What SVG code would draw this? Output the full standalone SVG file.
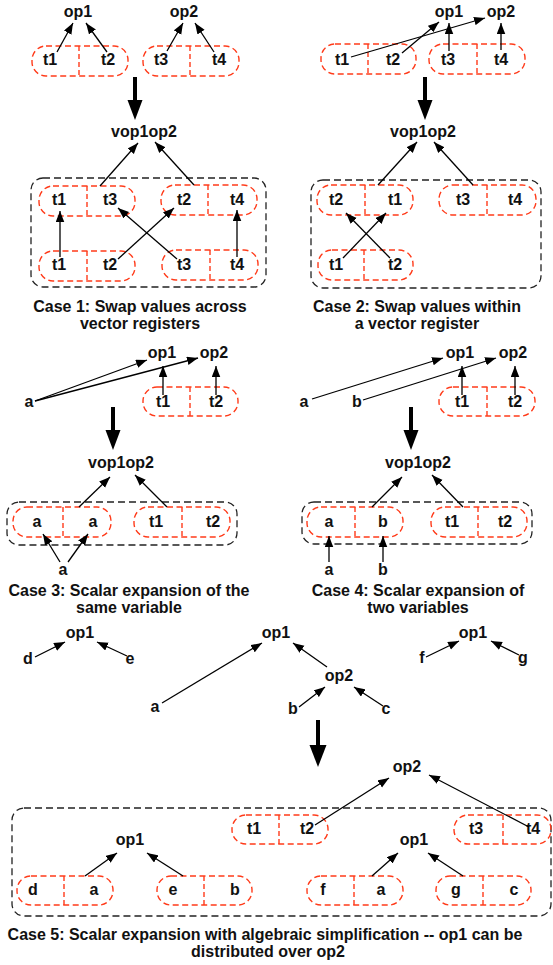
<svg xmlns="http://www.w3.org/2000/svg" width="553" height="965" viewBox="0 0 553 965">
  <style>
    text { font-family: "Liberation Sans", Arial, Helvetica, sans-serif; font-weight: bold; font-size: 16px; fill: #111; text-anchor: middle; }
    .reg { fill: none; stroke: #ff3b1a; stroke-width: 1.4; stroke-dasharray: 6 3.5; }
    .div { stroke: #ff3b1a; stroke-width: 1.4; stroke-dasharray: 5 3; }
    .box { fill: none; stroke: #222; stroke-width: 1.3; stroke-dasharray: 7 4; }
    .edge { stroke: #000; stroke-width: 1.3; fill: none; marker-end: url(#head); }
    .shaft { stroke: #000; stroke-width: 4; }
    .bighead { fill: #000; }
  </style>
  <defs>
    <marker id="head" markerUnits="userSpaceOnUse" markerWidth="12" markerHeight="9" refX="11" refY="4.25" orient="auto">
      <path d="M0,0 L11,4.25 L0,8.5 z" fill="#000"/>
    </marker>
  </defs>

  <!-- Case 1: swap values across vector registers -->
  <g id="c1-op1"><text x="78" y="17">op1</text></g>
  <g id="c1-op2"><text x="184" y="17">op2</text></g>
  <g id="c1-r12"><rect class="reg" x="32" y="46" width="96" height="30" rx="14"/><line class="div" x1="79" y1="46" x2="79" y2="76"/><text x="50" y="65">t1</text><text x="108" y="65">t2</text></g>
  <g id="c1-r34"><rect class="reg" x="143" y="46" width="96" height="30" rx="14"/><line class="div" x1="190" y1="46" x2="190" y2="76"/><text x="161" y="65">t3</text><text x="219" y="65">t4</text></g>
  <g id="c1-vop"><text x="144" y="137">vop1op2</text></g>
  <g id="c1-pack"><rect class="box" x="31" y="178" width="235" height="109" rx="12"/></g>
  <g id="c1-r13"><rect class="reg" x="39" y="186" width="96" height="30" rx="14"/><line class="div" x1="87" y1="186" x2="87" y2="216"/><text x="59" y="205">t1</text><text x="110" y="205">t3</text></g>
  <g id="c1-r24"><rect class="reg" x="161" y="185" width="96" height="30" rx="14"/><line class="div" x1="208" y1="185" x2="208" y2="215"/><text x="184" y="205">t2</text><text x="237" y="205">t4</text></g>
  <g id="c1-b12"><rect class="reg" x="39" y="251" width="96" height="30" rx="14"/><line class="div" x1="87" y1="251" x2="87" y2="281"/><text x="59" y="270">t1</text><text x="110" y="270">t2</text></g>
  <g id="c1-b34"><rect class="reg" x="162" y="250" width="96" height="30" rx="14"/><line class="div" x1="210" y1="250" x2="210" y2="280"/><text x="184" y="270">t3</text><text x="237" y="270">t4</text></g>
  <g id="c1-caption"><text x="140" y="312">Case 1: Swap values across</text><text x="140" y="329">vector registers</text></g>

  <!-- Case 2: swap values within a vector register -->
  <g id="c2-op1"><text x="449" y="17">op1</text></g>
  <g id="c2-op2"><text x="501" y="17">op2</text></g>
  <g id="c2-r12"><rect class="reg" x="321" y="44" width="95" height="30" rx="14"/><line class="div" x1="368" y1="44" x2="368" y2="74"/><text x="342" y="65">t1</text><text x="393" y="65">t2</text></g>
  <g id="c2-r34"><rect class="reg" x="429" y="44" width="96" height="30" rx="14"/><line class="div" x1="477" y1="44" x2="477" y2="74"/><text x="448" y="65">t3</text><text x="501" y="65">t4</text></g>
  <g id="c2-vop"><text x="423" y="137">vop1op2</text></g>
  <g id="c2-pack"><rect class="box" x="311" y="180" width="230" height="108" rx="12"/></g>
  <g id="c2-r21"><rect class="reg" x="317" y="185" width="96" height="30" rx="14"/><line class="div" x1="365" y1="185" x2="365" y2="215"/><text x="336" y="205">t2</text><text x="395" y="205">t1</text></g>
  <g id="c2-r34b"><rect class="reg" x="439" y="185" width="97" height="30" rx="14"/><line class="div" x1="487" y1="185" x2="487" y2="215"/><text x="463" y="205">t3</text><text x="515" y="205">t4</text></g>
  <g id="c2-b12"><rect class="reg" x="318" y="250" width="95" height="30" rx="14"/><line class="div" x1="364" y1="250" x2="364" y2="280"/><text x="336" y="270">t1</text><text x="395" y="270">t2</text></g>
  <g id="c2-caption"><text x="417" y="312">Case 2: Swap values within</text><text x="417" y="329">a vector register</text></g>

  <!-- Case 3: scalar expansion of the same variable -->
  <g id="c3-op1"><text x="162" y="358">op1</text></g>
  <g id="c3-op2"><text x="214" y="358">op2</text></g>
  <g id="c3-a"><text x="29" y="407">a</text></g>
  <g id="c3-r12"><rect class="reg" x="143" y="387" width="95" height="29" rx="14"/><line class="div" x1="190" y1="387" x2="190" y2="416"/><text x="163" y="407">t1</text><text x="216" y="407">t2</text></g>
  <g id="c3-vop"><text x="121" y="468">vop1op2</text></g>
  <g id="c3-pack"><rect class="box" x="7" y="502" width="230" height="43" rx="12"/></g>
  <g id="c3-raa"><rect class="reg" x="13" y="507" width="98" height="30" rx="14"/><line class="div" x1="63" y1="507" x2="63" y2="537"/><text x="37" y="527">a</text><text x="93" y="527">a</text></g>
  <g id="c3-rt"><rect class="reg" x="134" y="507" width="96" height="30" rx="14"/><line class="div" x1="182" y1="507" x2="182" y2="537"/><text x="156" y="527">t1</text><text x="213" y="527">t2</text></g>
  <g id="c3-a2"><text x="63" y="575">a</text></g>
  <g id="c3-caption"><text x="129" y="596">Case 3: Scalar expansion of the</text><text x="129" y="613">same variable</text></g>

  <!-- Case 4: scalar expansion of two variables -->
  <g id="c4-op1"><text x="460" y="358">op1</text></g>
  <g id="c4-op2"><text x="513" y="358">op2</text></g>
  <g id="c4-a"><text x="304" y="407">a</text></g>
  <g id="c4-b"><text x="357" y="407">b</text></g>
  <g id="c4-r12"><rect class="reg" x="439" y="387" width="96" height="29" rx="14"/><line class="div" x1="487" y1="387" x2="487" y2="416"/><text x="462" y="407">t1</text><text x="515" y="407">t2</text></g>
  <g id="c4-vop"><text x="418" y="468">vop1op2</text></g>
  <g id="c4-pack"><rect class="box" x="302" y="502" width="230" height="42" rx="12"/></g>
  <g id="c4-rab"><rect class="reg" x="307" y="507" width="96" height="30" rx="14"/><line class="div" x1="355" y1="507" x2="355" y2="537"/><text x="329" y="527">a</text><text x="383" y="527">b</text></g>
  <g id="c4-rt"><rect class="reg" x="431" y="507" width="96" height="30" rx="14"/><line class="div" x1="478" y1="507" x2="478" y2="537"/><text x="452" y="527">t1</text><text x="505" y="527">t2</text></g>
  <g id="c4-a2"><text x="329" y="575">a</text></g>
  <g id="c4-b2"><text x="383" y="575">b</text></g>
  <g id="c4-caption"><text x="418" y="596">Case 4: Scalar expansion of</text><text x="418" y="613">two variables</text></g>

  <!-- Case 5: scalar expansion with algebraic simplification -->
  <g id="c5-op1-de"><text x="80" y="638">op1</text></g>
  <g id="c5-d"><text x="28" y="664">d</text></g>
  <g id="c5-e"><text x="130" y="664">e</text></g>
  <g id="c5-op1-mid"><text x="276" y="638">op1</text></g>
  <g id="c5-a"><text x="155" y="712">a</text></g>
  <g id="c5-op2-mid"><text x="339" y="681">op2</text></g>
  <g id="c5-b"><text x="293" y="714">b</text></g>
  <g id="c5-c"><text x="386" y="714">c</text></g>
  <g id="c5-op1-fg"><text x="473" y="638">op1</text></g>
  <g id="c5-f"><text x="422" y="663">f</text></g>
  <g id="c5-g"><text x="523" y="663">g</text></g>
  <g id="c5-op2-v"><text x="407" y="772">op2</text></g>
  <g id="c5-pack"><rect class="box" x="12" y="808" width="539" height="108" rx="12"/></g>
  <g id="c5-r12"><rect class="reg" x="232" y="815" width="96" height="29" rx="14"/><line class="div" x1="279" y1="815" x2="279" y2="844"/><text x="254" y="834">t1</text><text x="307" y="834">t2</text></g>
  <g id="c5-r34"><rect class="reg" x="454" y="815" width="97" height="29" rx="14"/><line class="div" x1="503" y1="815" x2="503" y2="844"/><text x="476" y="834">t3</text><text x="533" y="834">t4</text></g>
  <g id="c5-vop1-l"><text x="130" y="845">op1</text></g>
  <g id="c5-vop1-r"><text x="414" y="845">op1</text></g>
  <g id="c5-rda"><rect class="reg" x="17" y="876" width="96" height="29" rx="14"/><line class="div" x1="64" y1="876" x2="64" y2="905"/><text x="33" y="895">d</text><text x="94" y="895">a</text></g>
  <g id="c5-reb"><rect class="reg" x="157" y="876" width="95" height="29" rx="14"/><line class="div" x1="204" y1="876" x2="204" y2="905"/><text x="173" y="895">e</text><text x="235" y="895">b</text></g>
  <g id="c5-rfa"><rect class="reg" x="307" y="876" width="96" height="29" rx="14"/><line class="div" x1="354" y1="876" x2="354" y2="905"/><text x="323" y="895">f</text><text x="381" y="895">a</text></g>
  <g id="c5-rgc"><rect class="reg" x="436" y="876" width="95" height="29" rx="14"/><line class="div" x1="483" y1="876" x2="483" y2="905"/><text x="456" y="895">g</text><text x="514" y="895">c</text></g>
  <g id="c5-caption"><text x="265" y="940">Case 5: Scalar expansion with algebraic simplification -- op1 can be</text><text x="268" y="957">distributed over op2</text></g>

  <!-- connectors -->
  <g id="connectors">
    <!-- case 1 -->
    <line class="edge" x1="57" y1="52" x2="73" y2="23"/>
    <line class="edge" x1="107" y1="52" x2="86" y2="23"/>
    <line class="edge" x1="167" y1="51" x2="183" y2="23"/>
    <line class="edge" x1="214" y1="52" x2="195" y2="23"/>
    <line class="edge" x1="100" y1="186" x2="138" y2="143"/>
    <line class="edge" x1="194" y1="185" x2="155" y2="142"/>
    <line class="edge" x1="60" y1="257" x2="60" y2="211"/>
    <line class="edge" x1="118" y1="259" x2="174" y2="208"/>
    <line class="edge" x1="177" y1="259" x2="118" y2="208"/>
    <line class="edge" x1="237" y1="257" x2="237" y2="210"/>
    <!-- case 2 -->
    <line class="edge" x1="351" y1="57" x2="485" y2="18"/>
    <line class="edge" x1="402" y1="53" x2="439" y2="22"/>
    <line class="edge" x1="449" y1="51" x2="449" y2="23"/>
    <line class="edge" x1="501" y1="50" x2="501" y2="23"/>
    <line class="edge" x1="378" y1="185" x2="417" y2="142"/>
    <line class="edge" x1="473" y1="185" x2="434" y2="142"/>
    <line class="edge" x1="343" y1="258" x2="386" y2="213"/>
    <line class="edge" x1="390" y1="258" x2="346" y2="213"/>
    <!-- case 3 -->
    <line class="edge" x1="35" y1="401" x2="147" y2="360"/>
    <line class="edge" x1="35" y1="401" x2="198" y2="358"/>
    <line class="edge" x1="163" y1="395" x2="163" y2="366"/>
    <line class="edge" x1="216" y1="395" x2="216" y2="366"/>
    <line class="edge" x1="79" y1="507" x2="110" y2="477"/>
    <line class="edge" x1="167" y1="507" x2="135" y2="475"/>
    <line class="edge" x1="60" y1="562" x2="43" y2="534"/>
    <line class="edge" x1="68" y1="562" x2="88" y2="534"/>
    <!-- case 4 -->
    <line class="edge" x1="312" y1="399" x2="443" y2="358"/>
    <line class="edge" x1="363" y1="400" x2="496" y2="358"/>
    <line class="edge" x1="462" y1="395" x2="462" y2="366"/>
    <line class="edge" x1="515" y1="395" x2="515" y2="366"/>
    <line class="edge" x1="372" y1="507" x2="402" y2="477"/>
    <line class="edge" x1="463" y1="507" x2="432" y2="475"/>
    <line class="edge" x1="329" y1="562" x2="329" y2="536"/>
    <line class="edge" x1="383" y1="562" x2="383" y2="536"/>
    <!-- case 5 -->
    <line class="edge" x1="35" y1="657" x2="65" y2="642"/>
    <line class="edge" x1="127" y1="656" x2="97" y2="642"/>
    <line class="edge" x1="162" y1="703" x2="262" y2="643"/>
    <line class="edge" x1="327" y1="667" x2="293" y2="643"/>
    <line class="edge" x1="299" y1="707" x2="325" y2="687"/>
    <line class="edge" x1="383" y1="706" x2="354" y2="687"/>
    <line class="edge" x1="426" y1="657" x2="459" y2="641"/>
    <line class="edge" x1="519" y1="655" x2="491" y2="641"/>
    <line class="edge" x1="315" y1="825" x2="389" y2="778"/>
    <line class="edge" x1="529" y1="827" x2="429" y2="775"/>
    <line class="edge" x1="85" y1="876" x2="117" y2="853"/>
    <line class="edge" x1="183" y1="876" x2="147" y2="853"/>
    <line class="edge" x1="372" y1="876" x2="398" y2="853"/>
    <line class="edge" x1="463" y1="876" x2="428" y2="853"/>
    <!-- transformation arrows -->
    <line class="shaft" x1="135" y1="77" x2="135" y2="102"/><path class="bighead" d="M127.5,100 L142.5,100 L135,120 z"/>
    <line class="shaft" x1="425" y1="77" x2="425" y2="102"/><path class="bighead" d="M417.5,100 L432.5,100 L425,120 z"/>
    <line class="shaft" x1="113" y1="407" x2="113" y2="432"/><path class="bighead" d="M105.5,430 L120.5,430 L113,450 z"/>
    <line class="shaft" x1="411" y1="407" x2="411" y2="432"/><path class="bighead" d="M403.5,430 L418.5,430 L411,450 z"/>
    <line class="shaft" x1="318" y1="720" x2="318" y2="747"/><path class="bighead" d="M309.5,745 L326.5,745 L318,767 z"/>
  </g>
</svg>
